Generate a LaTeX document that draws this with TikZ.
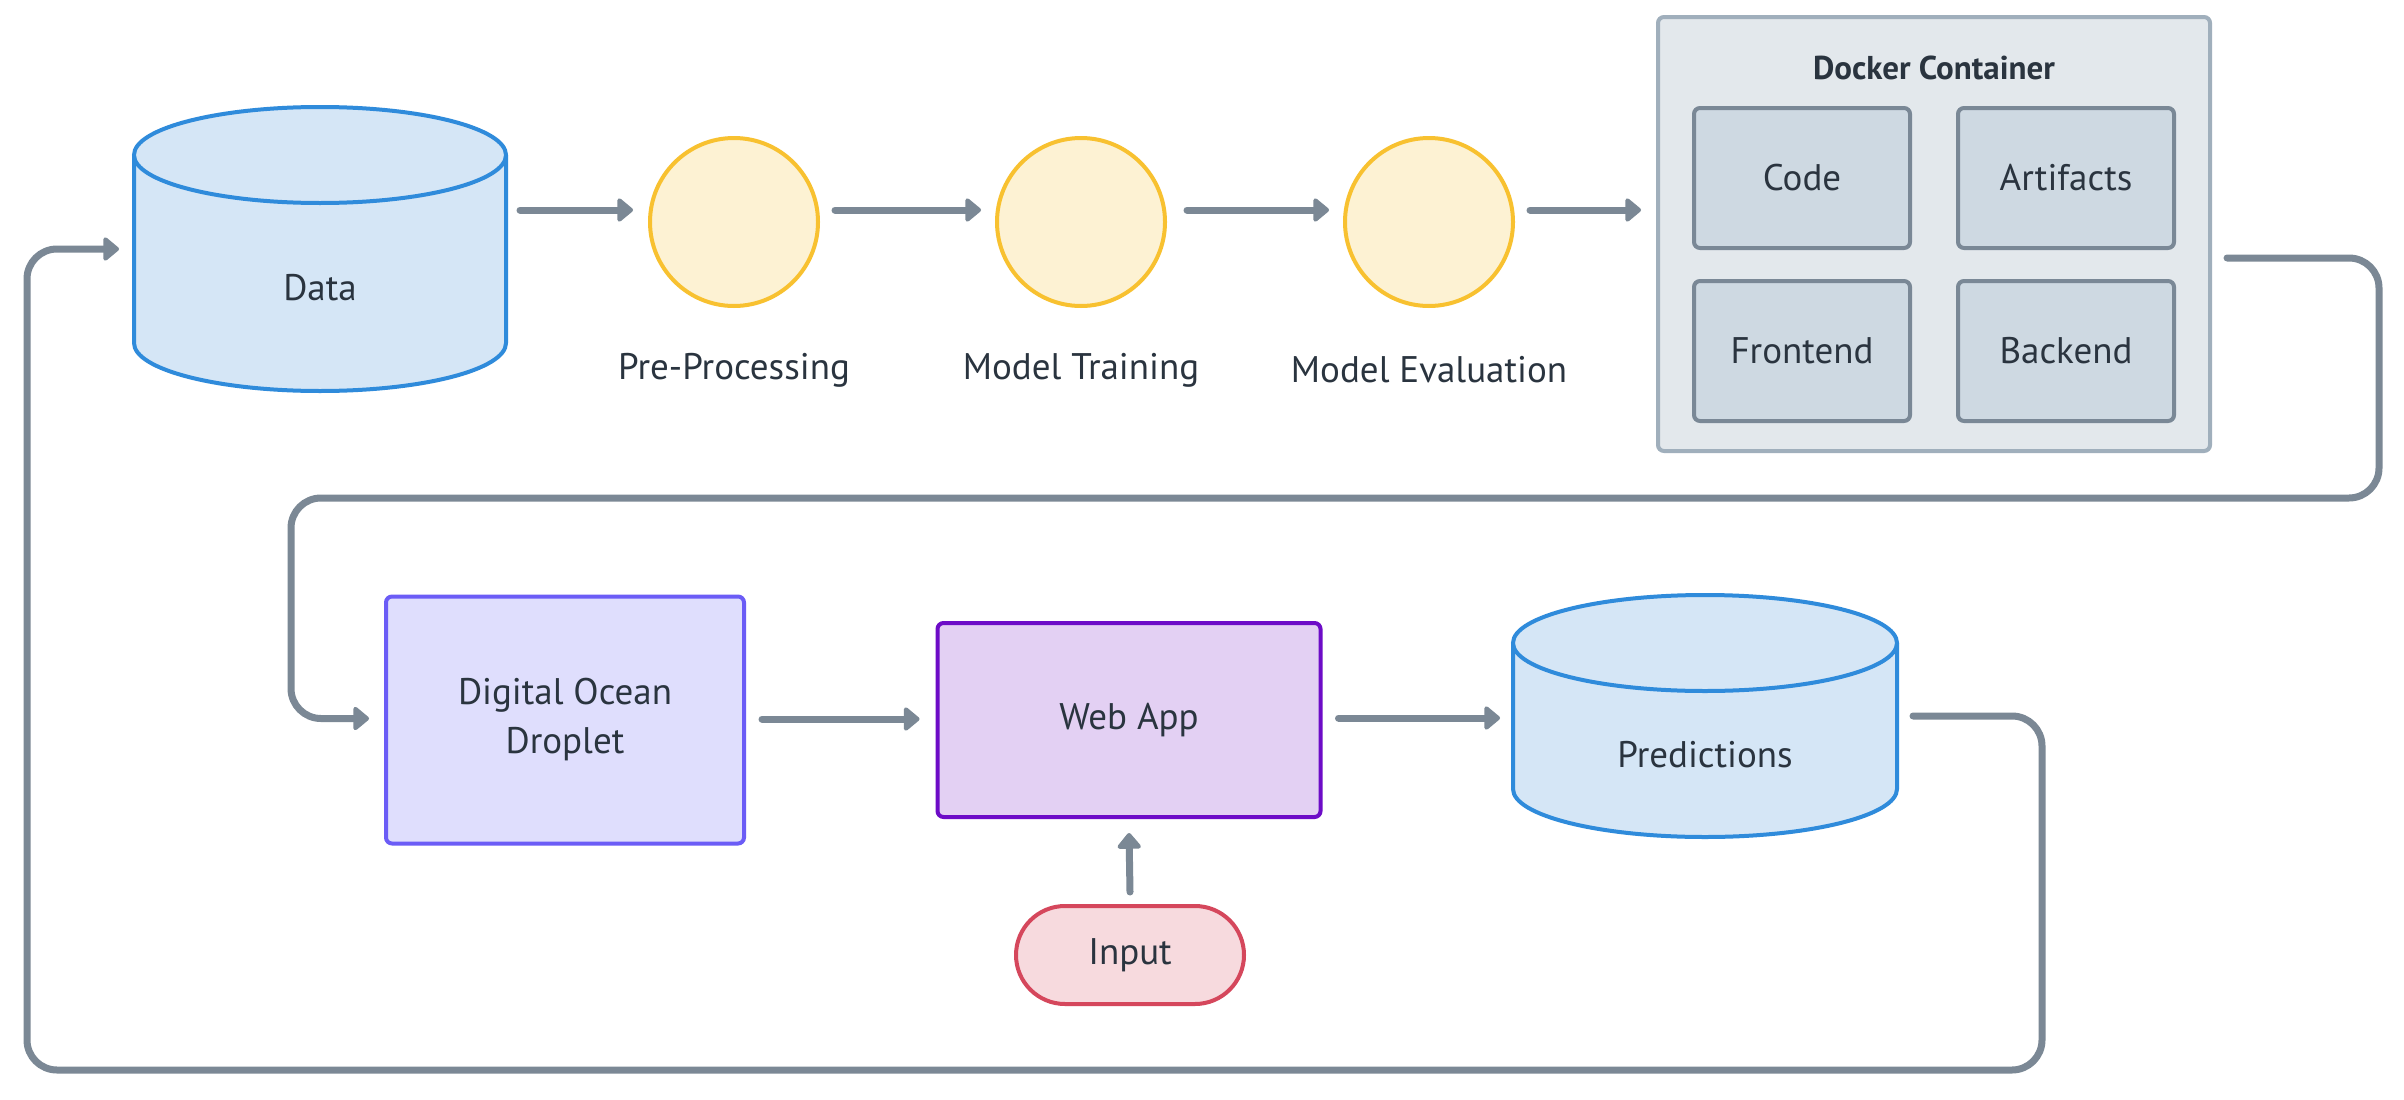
\documentclass[tikz,border=0pt]{standalone}
\usepackage{fontspec}
\setmainfont{PT Sans}
\usetikzlibrary{arrows.meta,calc}
\definecolor{conncol}{HTML}{7B8895}
\definecolor{cylstroke}{HTML}{2F8BDB}
\definecolor{cylfill}{HTML}{D5E6F6}
\definecolor{circstroke}{HTML}{F8C130}
\definecolor{circfill}{HTML}{FDF2D3}
\definecolor{dockstroke}{HTML}{A0AFBC}
\definecolor{dockfill}{HTML}{E3E8EC}
\definecolor{innerstroke}{HTML}{7A8896}
\definecolor{innerfill}{HTML}{CED9E2}
\definecolor{dostroke}{HTML}{6B5CF6}
\definecolor{dofill}{HTML}{DFDEFD}
\definecolor{webstroke}{HTML}{6D0CC7}
\definecolor{webfill}{HTML}{E3D0F3}
\definecolor{inpstroke}{HTML}{D5475C}
\definecolor{inpfill}{HTML}{F7DADE}
\definecolor{txtcol}{HTML}{2A343F}
\tikzset{
  txt/.style={text=txtcol, font=\fontsize{37}{49}\selectfont, align=center},
  boldtxt/.style={txt, font=\fontsize{33}{49}\selectfont\bfseries},
  conn/.style={draw=conncol, line width=7pt, line cap=round, rounded corners=30pt,
    -{Triangle[length=17pt,width=27pt,round]}},
  anchorbox/.style={inner sep=0pt, outer sep=0pt},
  circnode/.style={circle, draw=circstroke, fill=circfill, line width=4pt, minimum size=168pt, inner sep=0pt},
  dockbox/.style={rectangle, rounded corners=6pt, draw=dockstroke, fill=dockfill, line width=4pt, inner sep=0pt},
  innerbox/.style={rectangle, rounded corners=6pt, draw=innerstroke, fill=innerfill, line width=4pt,
    minimum width=216pt, minimum height=140pt, inner sep=0pt, txt},
  cylline/.style={draw=cylstroke, line width=4pt},
}
\begin{document}
\begin{tikzpicture}[x=1pt,y=-1pt]
\useasboundingbox (0,0) rectangle (2404,1100);
\fill[white] (0,0) rectangle (2404,1100);

% Data cylinder
\fill[cylfill] (134,155) -- (134,343) arc[start angle=180,end angle=0,x radius=186,y radius=48]
  -- (506,155) arc[start angle=0,end angle=-180,x radius=186,y radius=48] -- cycle;
\draw[cylline] (134,155) -- (134,343) arc[start angle=180,end angle=0,x radius=186,y radius=48] -- (506,155);
\filldraw[cylline, fill=cylfill] (320,155) ellipse[x radius=186, y radius=48];
\node[anchorbox, minimum width=372pt, minimum height=284pt] (data) at (320,249) {};
\node[txt] (datatxt) at (320,288) {Data};

% circles
\node[circnode] (pre) at (734,222) {};
\node[circnode] (mt) at (1081,222) {};
\node[circnode] (me) at (1429,222) {};
\node[txt] (pretxt) at (734,370) {Pre-Processing};
\node[txt] (mttxt) at (1081,370) {Model Training};
\node[txt] (metxt) at (1429,370) {Model Evaluation};

% Docker container
\node[dockbox, minimum width=552pt, minimum height=434pt] (docker) at (1934,234) {};
\node[boldtxt] (docktitle) at (1934,68) {Docker Container};
\node[innerbox] (code) at (1802,178) {Code};
\node[innerbox] (art) at (2066,178) {Artifacts};
\node[innerbox] (front) at (1802,351) {Frontend};
\node[innerbox] (back) at (2066,351) {Backend};

% bottom row
\node[rectangle, rounded corners=6pt, draw=dostroke, fill=dofill, line width=4pt,
  minimum width=358pt, minimum height=247pt, inner sep=0pt, txt] (do) at (565,720) {Digital Ocean\\Droplet};
\node[rectangle, rounded corners=6pt, draw=webstroke, fill=webfill, line width=4pt,
  minimum width=383pt, minimum height=194pt, inner sep=0pt, txt] (web) at (1129,720) {Web App};
\node[rectangle, rounded corners=49pt, draw=inpstroke, fill=inpfill, line width=4pt,
  minimum width=228pt, minimum height=98pt, inner sep=0pt, txt] (inp) at (1130,955) {Input};

% Predictions cylinder
\fill[cylfill] (1513,643) -- (1513,789) arc[start angle=180,end angle=0,x radius=192,y radius=48]
  -- (1897,643) arc[start angle=0,end angle=-180,x radius=192,y radius=48] -- cycle;
\draw[cylline] (1513,643) -- (1513,789) arc[start angle=180,end angle=0,x radius=192,y radius=48] -- (1897,643);
\filldraw[cylline, fill=cylfill] (1705,643) ellipse[x radius=192, y radius=48];
\node[anchorbox, minimum width=384pt, minimum height=242pt] (pred) at (1705,717) {};
\node[txt] (predtxt) at (1705,755) {Predictions};

% connectors
\draw[conn] ([xshift=14pt,yshift=39pt]data.east) -- ([xshift=-15pt,yshift=12pt]pre.west);
\draw[conn] ([xshift=15pt,yshift=12pt]pre.east) -- ([xshift=-14pt,yshift=12pt]mt.west);
\draw[conn] ([xshift=20pt,yshift=12pt]mt.east) -- ([xshift=-14pt,yshift=12pt]me.west);
\draw[conn] ([xshift=15pt,yshift=12pt]me.east) -- ([xshift=-15pt,yshift=24pt]docker.west);
\draw[conn] ([xshift=15pt,yshift=-24pt]docker.east) -- (2379,258) -- (2379,498) -- (291,498) -- (291,718.5) -- ([xshift=-15pt,yshift=1.5pt]do.west);
\draw[conn] ([xshift=16pt,yshift=1pt]do.east) -- ([xshift=-16pt,yshift=1pt]web.west);
\draw[conn] ([yshift=12pt]inp.north) -- ([yshift=-14pt]web.south);
\draw[conn] ([xshift=16pt,yshift=2pt]web.east) -- ([xshift=-13pt,yshift=-1pt]pred.west);
\draw[conn] ([xshift=16pt,yshift=1pt]pred.east) -- (2042,716) -- (2042,1070) -- (27,1070) -- (27,249) -- ([xshift=-15pt]data.west);
\end{tikzpicture}
\end{document}
